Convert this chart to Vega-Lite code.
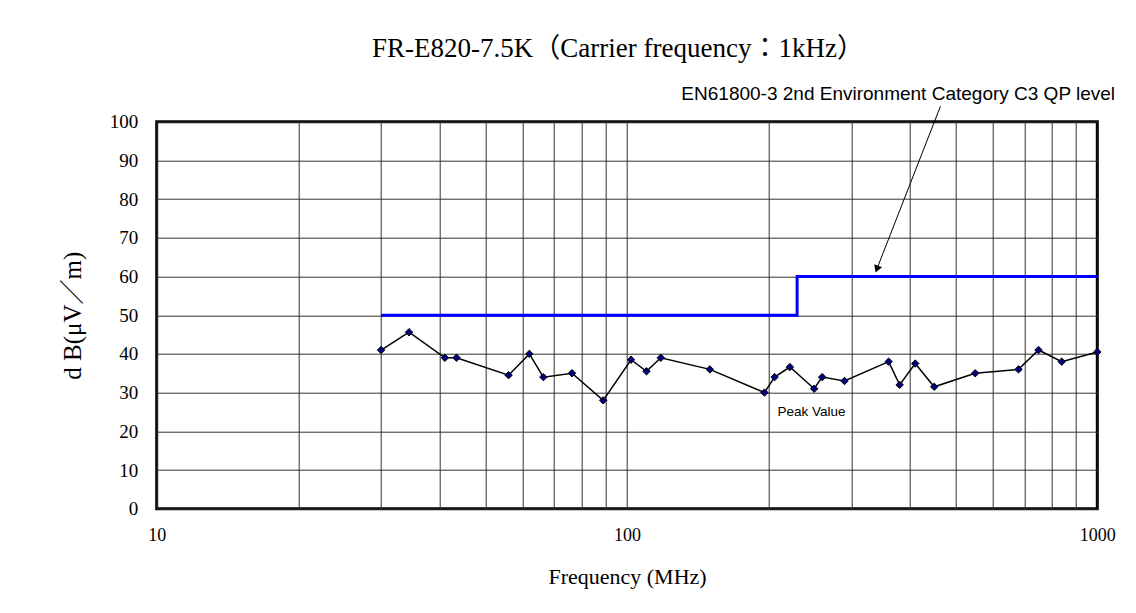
{
  "$schema": "https://vega.github.io/schema/vega-lite/v6.json",
  "autosize": "none",
  "width": 940.6,
  "height": 387,
  "padding": {"left": 156.7, "top": 121.7, "right": 38.7, "bottom": 104.3},
  "background": "white",
  "title": {
    "text": "FR-E820-7.5K（Carrier frequency：1kHz）",
    "font": "Liberation Serif, Noto Sans CJK JP, serif",
    "fontSize": 27,
    "fontWeight": "normal",
    "color": "black",
    "anchor": "middle",
    "dx": -9,
    "offset": 22
  },
  "datasets": {
    "limit": [
      {"f": 30, "db": 50},
      {"f": 230, "db": 60},
      {"f": 1000, "db": 60}
    ],
    "peak": [
      {"f": 30, "db": 41},
      {"f": 34.4, "db": 45.6},
      {"f": 41, "db": 39},
      {"f": 43.4, "db": 39},
      {"f": 56, "db": 34.5},
      {"f": 62, "db": 40},
      {"f": 66.4, "db": 34},
      {"f": 76.4, "db": 35},
      {"f": 89, "db": 28},
      {"f": 102, "db": 38.5},
      {"f": 110, "db": 35.5},
      {"f": 118, "db": 39},
      {"f": 150, "db": 36},
      {"f": 196, "db": 30},
      {"f": 206, "db": 34},
      {"f": 222, "db": 36.6},
      {"f": 250, "db": 31},
      {"f": 260, "db": 34},
      {"f": 290, "db": 33},
      {"f": 360, "db": 38},
      {"f": 380, "db": 32},
      {"f": 410, "db": 37.5},
      {"f": 450, "db": 31.5},
      {"f": 550, "db": 35},
      {"f": 680, "db": 36},
      {"f": 750, "db": 41},
      {"f": 840, "db": 38},
      {"f": 1000, "db": 40.5}
    ],
    "arrow": [
      {"f": 464, "db": 104, "f2": 339, "db2": 61.6}
    ],
    "arrowhead": [
      {"f": 339.8, "db": 61.9}
    ],
    "limitLabel": [
      {"f": 1091, "db": 107.2, "text": "EN61800-3 2nd Environment Category C3 QP level"}
    ],
    "peakLabel": [
      {"f": 209, "db": 25, "text": "Peak Value"}
    ]
  },
  "encoding": {
    "x": {
      "field": "f", "type": "quantitative",
      "scale": {"type": "log", "domain": [10, 1000], "nice": false},
      "axis": {
        "title": "Frequency (MHz)",
        "values": [10, 20, 30, 40, 50, 60, 70, 80, 90, 100, 200, 300, 400, 500, 600, 700, 800, 900, 1000],
        "format": "d",
        "labelExpr": "(datum.value == 10 || datum.value == 100 || datum.value == 1000) ? datum.label : ''",
        "labelOverlap": false,
        "labelFlush": false,
        "labelFontSize": 18,
        "labelPadding": 18,
        "titleFontSize": 22,
        "titlePadding": 22
      }
    },
    "y": {
      "field": "db", "type": "quantitative",
      "scale": {"domain": [0, 100], "nice": false, "zero": false},
      "axis": {
        "title": "d B(μV／m)",
        "values": [0, 10, 20, 30, 40, 50, 60, 70, 80, 90, 100],
        "labelFontSize": 19,
        "labelPadding": 19,
        "titleFontSize": 25,
        "titlePadding": 24
      }
    }
  },
  "layer": [
    {
      "data": {"name": "limit"},
      "mark": {"type": "line", "interpolate": "step-after", "color": "#0000FF", "strokeWidth": 3}
    },
    {
      "data": {"name": "peak"},
      "mark": {"type": "line", "color": "black", "strokeWidth": 1.5}
    },
    {
      "data": {"name": "peak"},
      "mark": {"type": "point", "shape": "diamond", "filled": true, "fill": "#000080", "stroke": "black", "strokeWidth": 1, "size": 55, "opacity": 1}
    },
    {
      "data": {"name": "arrow"},
      "mark": {"type": "rule", "color": "black", "strokeWidth": 1},
      "encoding": {
        "x2": {"field": "f2"},
        "y2": {"field": "db2"}
      }
    },
    {
      "data": {"name": "arrowhead"},
      "mark": {"type": "point", "shape": "triangle-down", "filled": true, "color": "black", "size": 70, "angle": 21.5, "opacity": 1}
    },
    {
      "data": {"name": "limitLabel"},
      "mark": {"type": "text", "font": "Liberation Sans", "fontSize": 19, "color": "black", "baseline": "middle", "align": "right"},
      "encoding": {"text": {"field": "text"}}
    },
    {
      "data": {"name": "peakLabel"},
      "mark": {"type": "text", "font": "Liberation Sans", "fontSize": 13.5, "color": "black", "baseline": "middle", "align": "left"},
      "encoding": {"text": {"field": "text"}}
    }
  ],
  "config": {
    "view": {"stroke": "black", "strokeWidth": 3},
    "axis": {
      "grid": true,
      "gridColor": "#333333",
      "gridWidth": 1,
      "gridOpacity": 1,
      "ticks": false,
      "tickSize": 0,
      "domain": false,
      "labelFont": "Liberation Serif",
      "labelColor": "black",
      "titleFont": "Liberation Serif, Noto Sans CJK JP, serif",
      "titleFontWeight": "normal",
      "titleColor": "black"
    }
  }
}
